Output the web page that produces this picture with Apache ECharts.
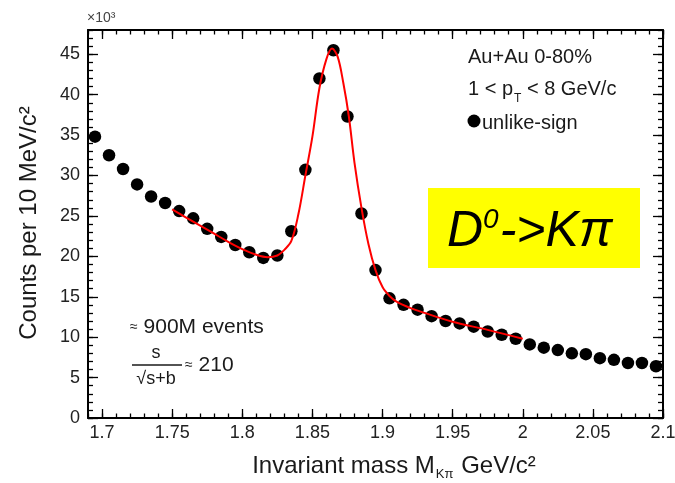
<!DOCTYPE html>
<html><head><meta charset="utf-8">
<script src="https://cdn.jsdelivr.net/npm/echarts@6/dist/echarts.min.js"></script>
<style>html,body{margin:0;padding:0;background:#fff}#c{width:675px;height:483px}</style>
</head><body><div id="c"></div>
<script>
// ---- data ----
const massBins = [1.695,1.705,1.715,1.725,1.735,1.745,1.755,1.765,1.775,1.785,1.795,1.805,1.815,1.825,1.835,1.845,
  1.855,1.865,1.875,1.885,1.895,1.905,1.915,1.925,1.935,1.945,1.955,1.965,1.975,1.985,1.995,
  2.005,2.015,2.025,2.035,2.045,2.055,2.065,2.075,2.085,2.095];
const counts = [34.8,32.5,30.8,28.9,27.4,26.6,25.6,24.7,23.4,22.4,21.4,20.5,19.8,20.1,23.1,30.7,
  42.0,45.5,37.3,25.3,18.3,14.8,14.0,13.4,12.6,12.0,11.7,11.3,10.7,10.3,9.8,
  9.1,8.7,8.4,8.0,7.9,7.4,7.2,6.8,6.8,6.4];
const fitMass = [1.75,1.76,1.77,1.78,1.79,1.80,1.81,1.818,1.825,1.83,1.835,1.84,1.845,1.85,1.855,1.86,1.864,
  1.868,1.872,1.876,1.88,1.885,1.89,1.895,1.90,1.905,1.91,1.92,1.93,1.95,1.975,2.0];
const fitCounts = [25.8,24.8,23.8,22.8,21.8,20.9,20.2,19.9,20.1,20.8,21.9,25.2,30.0,34.8,40.8,44.4,45.7,
  44.7,41.5,37.3,31.6,26.0,21.5,18.3,16.2,15.1,14.4,13.6,13.0,11.9,10.9,9.8];
const xMajorTicks = [1.7,1.75,1.8,1.85,1.9,1.95,2.0,2.05,2.1];
const yMajorTicks = [0,5,10,15,20,25,30,35,40,45];
const xMinorTicks = []; for (let k = 169; k <= 210; k++) xMinorTicks.push(k / 100);
const yMinorTicks = []; for (let k = 0; k <= 48; k++) yMinorTicks.push(k);

const F = '"Liberation Sans", Arial, Helvetica, sans-serif';
const X_MIN = 1.69, X_MAX = 2.1, Y_MIN = 0, Y_MAX = 48;

function xAxisDef(pos, ticks, len, showLine, showLabel) {
  return {
    type: 'value', min: X_MIN, max: X_MAX, position: pos,
    axisLine: { show: showLine, onZero: false, lineStyle: { color: '#000', width: 2 } },
    axisTick: { show: true, inside: true, length: len, customValues: ticks, lineStyle: { color: '#000', width: 1.3 } },
    axisLabel: { show: showLabel, customValues: xMajorTicks, fontSize: 18, color: '#222', fontFamily: F, margin: 6,
      formatter: v => String(+(+v).toFixed(2)) },
    splitLine: { show: false }, minorTick: { show: false }
  };
}
function yAxisDef(pos, ticks, len, showLine, showLabel) {
  return {
    type: 'value', min: Y_MIN, max: Y_MAX, position: pos,
    axisLine: { show: showLine, onZero: false, lineStyle: { color: '#000', width: 2 } },
    axisTick: { show: true, inside: true, length: len, customValues: ticks, lineStyle: { color: '#000', width: 1.3 } },
    axisLabel: { show: showLabel, customValues: yMajorTicks, fontSize: 18, color: '#222', fontFamily: F, margin: 8 },
    splitLine: { show: false }, minorTick: { show: false }
  };
}

const txt = (x, y, text, size, extra) => Object.assign({
  type: 'text', x: x, y: y, z: 100,
  style: Object.assign({ text: text, fontSize: size, fontFamily: F, fill: '#1a1a1a', align: 'left', verticalAlign: 'middle' }, extra || {})
});

const chart = echarts.init(document.getElementById('c'), null, { renderer: 'canvas' });
chart.setOption({
  animation: false,
  backgroundColor: '#fff',
  grid: { left: 88, right: 12, top: 30, bottom: 65, containLabel: false, outerBoundsMode: 'none' },
  xAxis: [
    xAxisDef('bottom', xMajorTicks, 9, true, true),
    xAxisDef('bottom', xMinorTicks, 4.5, false, false),
    xAxisDef('top', xMajorTicks, 9, true, false),
    xAxisDef('top', xMinorTicks, 4.5, false, false)
  ],
  yAxis: [
    yAxisDef('left', yMajorTicks, 10, true, true),
    yAxisDef('left', yMinorTicks, 5, false, false),
    yAxisDef('right', yMajorTicks, 10, true, false),
    yAxisDef('right', yMinorTicks, 5, false, false)
  ],
  series: [
    { type: 'scatter', xAxisIndex: 0, yAxisIndex: 0, symbol: 'circle', symbolSize: 12.5,
      itemStyle: { color: '#000', opacity: 1 }, z: 2,
      data: massBins.map((m, i) => [m, counts[i]]) },
    { type: 'line', xAxisIndex: 0, yAxisIndex: 0, smooth: 0.35, showSymbol: false, z: 3,
      lineStyle: { color: '#ff0000', width: 2 },
      data: fitMass.map((m, i) => [m, fitCounts[i]]) }
  ],
  graphic: [
    txt(87, 18, '×10³', 14, { fill: '#444' }),
    Object.assign(txt(29, 223, 'Counts per 10 MeV/c²', 24, { align: 'center' }), { rotation: Math.PI / 2 }),
    txt(394, 466, '{a|Invariant mass M}{s|Kπ}{a| GeV/c²}', 24, {
      align: 'center',
      rich: { a: { fontSize: 24, fontFamily: F, fill: '#1a1a1a' },
              s: { fontSize: 13, fontFamily: F, fill: '#1a1a1a', padding: [16, 1, 0, 1] } }
    }),
    txt(468, 57, 'Au+Au 0-80%', 20),
    txt(468, 89, '{a|1 < p}{s|T}{a| < 8 GeV/c}', 20, {
      rich: { a: { fontSize: 20, fontFamily: F, fill: '#1a1a1a' },
              s: { fontSize: 12, fontFamily: F, fill: '#1a1a1a', padding: [20, 0, 0, 1] } }
    }),
    { type: 'circle', z: 100, shape: { cx: 474, cy: 121, r: 6.5 }, style: { fill: '#000' } },
    txt(482, 123, 'unlike-sign', 20),
    txt(130, 327, '{s|≈} {a|900M events}', 21, {
      rich: { a: { fontSize: 21, fontFamily: F, fill: '#1a1a1a' }, s: { fontSize: 14, fontFamily: F, fill: '#1a1a1a' } }
    }),
    txt(156, 353, 's', 18, { align: 'center' }),
    { type: 'line', z: 100, shape: { x1: 132, y1: 365, x2: 182, y2: 365 }, style: { stroke: '#1a1a1a', lineWidth: 1.3 } },
    txt(156, 379, '√s+b', 18, { align: 'center' }),
    txt(185, 365, '{s|≈} {a|210}', 21, {
      rich: { a: { fontSize: 21, fontFamily: F, fill: '#1a1a1a' }, s: { fontSize: 14, fontFamily: F, fill: '#1a1a1a' } }
    }),
    { type: 'rect', z: 90, shape: { x: 428, y: 188, width: 212, height: 80 }, style: { fill: '#ffff00' } },
    txt(447, 232, '{a|D}{p|0}{a|->Kπ}', 50, {
      rich: { a: { fontSize: 50, fontStyle: 'italic', fontFamily: F, fill: '#000' },
              p: { fontSize: 28, fontStyle: 'italic', fontFamily: F, fill: '#000', padding: [0, 1, 24, 0] } }
    })
  ]
});
</script></body></html>
